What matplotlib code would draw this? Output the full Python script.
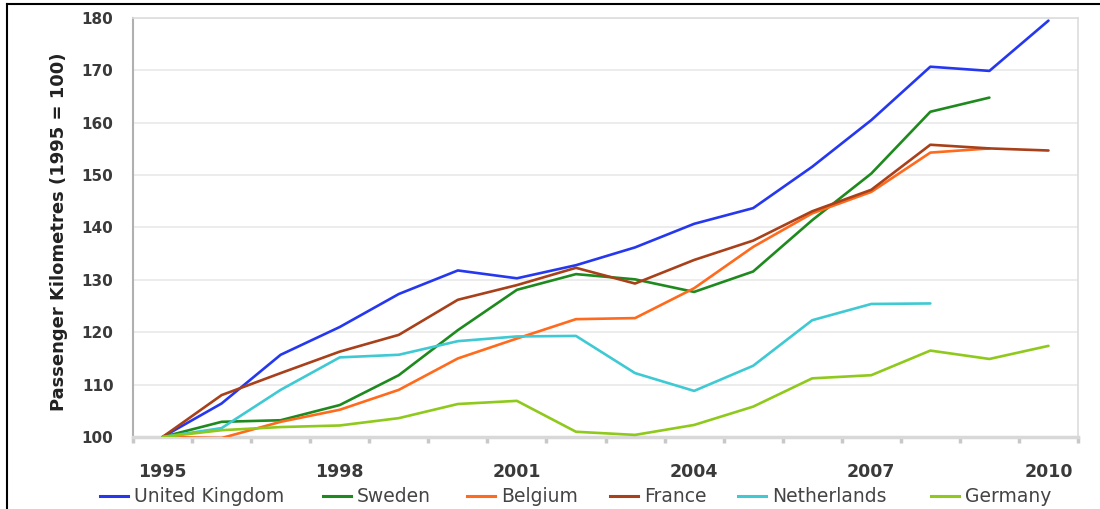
import matplotlib
matplotlib.use("Agg")
import matplotlib.pyplot as plt
from matplotlib.lines import Line2D
from matplotlib.ticker import FixedLocator

# Passenger kilometres index, 1995 = 100
years = list(range(1995, 2011))

uk = [100, 106.4, 115.7, 121.0, 127.3, 131.8, 130.3, 132.8, 136.2, 140.7,
      143.7, 151.6, 160.5, 170.7, 169.9, 179.5]
sweden = [100, 102.9, 103.2, 106.1, 111.8, 120.4, 128.1, 131.1, 130.1, 127.7,
          131.6, 141.4, 150.3, 162.1, 164.8]
belgium = [100, 99.8, 102.9, 105.2, 109.0, 115.0, 118.8, 122.5, 122.7, 128.4,
           136.3, 142.7, 146.8, 154.3, 155.1]
france = [100, 108.0, 112.2, 116.3, 119.5, 126.2, 129.0, 132.3, 129.3, 133.8,
          137.5, 143.1, 147.2, 155.8, 155.1, 154.7]
netherlands = [100, 101.7, 109.0, 115.2, 115.7, 118.3, 119.2, 119.3, 112.2,
               108.8, 113.6, 122.3, 125.4, 125.5]
germany = [100, 101.3, 101.9, 102.2, 103.6, 106.3, 106.9, 101.0, 100.4, 102.3,
           105.8, 111.2, 111.8, 116.5, 114.9, 117.4]

series = [
    ("United Kingdom", uk, "#2538f0"),
    ("Sweden", sweden, "#1e8a1e"),
    ("Belgium", belgium, "#ff6a1c"),
    ("France", france, "#a8401a"),
    ("Netherlands", netherlands, "#3ec9d3"),
    ("Germany", germany, "#8fc91c"),
]

y_ticks = list(range(100, 181, 10))
x_labelled = [1995, 1998, 2001, 2004, 2007, 2010]

W, H = 1100, 509
fig = plt.figure(figsize=(W / 100, H / 100), dpi=100)
ax = fig.add_axes([133 / W, (H - 437) / H, (1078 - 133) / W, (437 - 18) / H])

for name, vals, color in series:
    ax.plot(years[:len(vals)], vals, color=color, lw=1.9, label=name,
            solid_capstyle="round", solid_joinstyle="round", zorder=3)

ax.set_xlim(years[0] - 0.5, years[-1] + 0.5)
ax.set_ylim(100, 180)

ax.set_yticks(y_ticks)
ax.yaxis.grid(True, color="#e9e9e9", lw=1.2, zorder=0)
ax.set_axisbelow(True)

ax.set_xticks(x_labelled)
ax.set_xticklabels([str(y) for y in x_labelled])
ax.xaxis.set_minor_locator(FixedLocator([y - 0.5 for y in years] + [years[-1] + 0.5]))
ax.tick_params(axis="x", which="major", length=0, pad=19, labelsize=12.5,
               labelcolor="#3a3a3a")
ax.tick_params(axis="x", which="minor", length=4, width=2.5, color="#c8c8c8")
ax.tick_params(axis="y", length=0, pad=14, labelsize=11, labelcolor="#3a3a3a")
for lab in ax.get_xticklabels() + ax.get_yticklabels():
    lab.set_fontweight("bold")

for side in ("top", "right"):
    ax.spines[side].set_color("#dddddd")
    ax.spines[side].set_linewidth(1.2)
ax.spines["left"].set_color("#b0b0b0")
ax.spines["left"].set_linewidth(1.5)
ax.spines["bottom"].set_color("#d8d8d8")
ax.spines["bottom"].set_linewidth(2.5)

fig.text(59 / W, (H - 232) / H, "Passenger Kilometres (1995 = 100)", rotation=90,
         ha="center", va="center", fontsize=13, fontweight="bold", color="#222222")

# legend row along the bottom edge
legend_handle_x = [100, 323, 467, 610, 738, 931]
legend_y = (H - 496) / H
for (name, _, color), x0 in zip(series, legend_handle_x):
    fig.add_artist(Line2D([x0 / W, (x0 + 28) / W], [legend_y, legend_y],
                          transform=fig.transFigure, color=color, lw=2.2))
    fig.text((x0 + 34) / W, legend_y, name, ha="left", va="center",
             fontsize=13.5, color="#444444")

# outer frame lines
fig.add_artist(Line2D([7 / W, 1.0], [(H - 4) / H, (H - 4) / H],
                      transform=fig.transFigure, color="black", lw=1.5))
fig.add_artist(Line2D([7 / W, 7 / W], [0.0, (H - 4) / H],
                      transform=fig.transFigure, color="black", lw=1.5))

fig.savefig("out.png", dpi=100, facecolor="white")
